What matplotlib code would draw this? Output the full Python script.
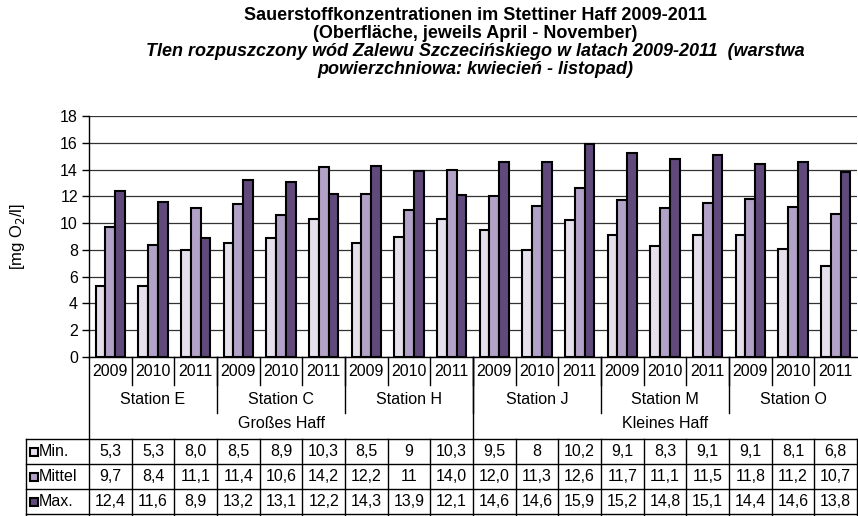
import numpy as np
import matplotlib
matplotlib.use("Agg")
import matplotlib.pyplot as plt
from matplotlib.transforms import blended_transform_factory
from matplotlib.lines import Line2D

# table values as printed below the chart
years = ["2009", "2010", "2011"] * 6
stations = ["Station E", "Station C", "Station H", "Station J", "Station M", "Station O"]
haffs = ["Großes Haff", "Kleines Haff"]
min_txt = ["5,3", "5,3", "8,0", "8,5", "8,9", "10,3", "8,5", "9", "10,3",
           "9,5", "8", "10,2", "9,1", "8,3", "9,1", "9,1", "8,1", "6,8"]
mittel_txt = ["9,7", "8,4", "11,1", "11,4", "10,6", "14,2", "12,2", "11", "14,0",
              "12,0", "11,3", "12,6", "11,7", "11,1", "11,5", "11,8", "11,2", "10,7"]
max_txt = ["12,4", "11,6", "8,9", "13,2", "13,1", "12,2", "14,3", "13,9", "12,1",
           "14,6", "14,6", "15,9", "15,2", "14,8", "15,1", "14,4", "14,6", "13,8"]
series_names = ["Min.", "Mittel", "Max."]
colors = ["#E6E0EC", "#B3A2C7", "#604A7B"]

W, H = 858, 516
fig = plt.figure(figsize=(W / 100, H / 100), dpi=100)
plt.rcParams['font.family'] = ['Liberation Sans', 'DejaVu Sans']

def fx(px):
    return px / W

def fy(py):
    return 1 - py / H

left, right, top, bottom = 89, 857, 116, 357
ax = fig.add_axes([fx(left), fy(bottom), fx(right - left), (bottom - top) / H])

n = len(years)
x = np.arange(n) + 0.5
bw = 0.227
rows = [min_txt, mittel_txt, max_txt]
for k, (txt, c) in enumerate(zip(rows, colors)):
    vals = [float(s.replace(",", ".")) for s in txt]
    ax.bar(x + (k - 1) * bw, vals, bw, color=c, edgecolor="black", linewidth=1.5, zorder=3)

ax.set_xlim(0, n)
ax.set_ylim(0, 18)
ax.set_yticks(np.arange(0, 19, 2))
ax.tick_params(axis="y", direction="out", length=5, width=1, labelsize=11.5, pad=3)
ax.set_xticks([])
ax.yaxis.grid(True, color="#333333", linewidth=0.9, zorder=0)
for s in ["top", "right"]:
    ax.spines[s].set_visible(False)
ax.spines["left"].set_linewidth(1)
ax.spines["bottom"].set_linewidth(1)
ax.set_ylabel("[mg O$_2$/l]", fontsize=12, labelpad=24)

tr = blended_transform_factory(ax.transData, fig.transFigure)
trf = fig.transFigure
fs = 11.5

def vline(xd, y0, y1, lw=1):
    fig.add_artist(Line2D([xd, xd], [fy(y0), fy(y1)], transform=tr, color="black", lw=lw))

def hline(y, x0=26, x1=857):
    fig.add_artist(Line2D([fx(x0), fx(x1)], [fy(y), fy(y)], transform=trf, color="black", lw=1))

# category axis labels
for i, yr in enumerate(years):
    ax.text(x[i], fy(372), yr, transform=tr, ha="center", va="center", fontsize=fs)
    if i > 0:
        vline(i, bottom, 385)
for j, st in enumerate(stations):
    ax.text(3 * j + 1.5, fy(399), st, transform=tr, ha="center", va="center", fontsize=fs)
    if j > 0:
        vline(3 * j, bottom, 413)
for j, hf in enumerate(haffs):
    ax.text(9 * j + 4.5, fy(424), hf, transform=tr, ha="center", va="center", fontsize=fs)
vline(9, bottom, 439)
vline(0, bottom, H)

# data table
row_tops = [439, 464, 489]
for y in row_tops:
    hline(y)
hline(514)
fig.add_artist(Line2D([fx(26), fx(26)], [fy(439), fy(H)], transform=trf, color="black", lw=1))
for i in range(1, n + 1):
    vline(i, 439, H)
for r, (name, txt, c) in enumerate(zip(series_names, rows, colors)):
    yc = row_tops[r] + 12.5
    fig.add_artist(Line2D([fx(34)], [fy(yc)], transform=trf, marker="s", markersize=6,
                          markerfacecolor=c, markeredgecolor="black", markeredgewidth=1.5))
    fig.text(fx(38.5), fy(yc), name, ha="left", va="center", fontsize=fs)
    for i, s in enumerate(txt):
        ax.text(x[i], fy(yc), s, transform=tr, ha="center", va="center", fontsize=fs)

# title
tx = fx(475)
tfs = 13
fig.text(tx, fy(15), "Sauerstoffkonzentrationen im Stettiner Haff 2009-2011", ha="center",
         va="center", fontsize=tfs, fontweight="bold")
fig.text(tx, fy(33), "(Oberfläche, jeweils April - November)", ha="center",
         va="center", fontsize=tfs, fontweight="bold")
fig.text(tx, fy(51), "Tlen rozpuszczony wód Zalewu Szczecińskiego w latach 2009-2011  (warstwa",
         ha="center", va="center", fontsize=tfs, fontweight="bold", style="italic")
fig.text(tx, fy(69), "powierzchniowa: kwiecień - listopad)", ha="center",
         va="center", fontsize=tfs, fontweight="bold", style="italic")

fig.savefig("out.png", dpi=100)
